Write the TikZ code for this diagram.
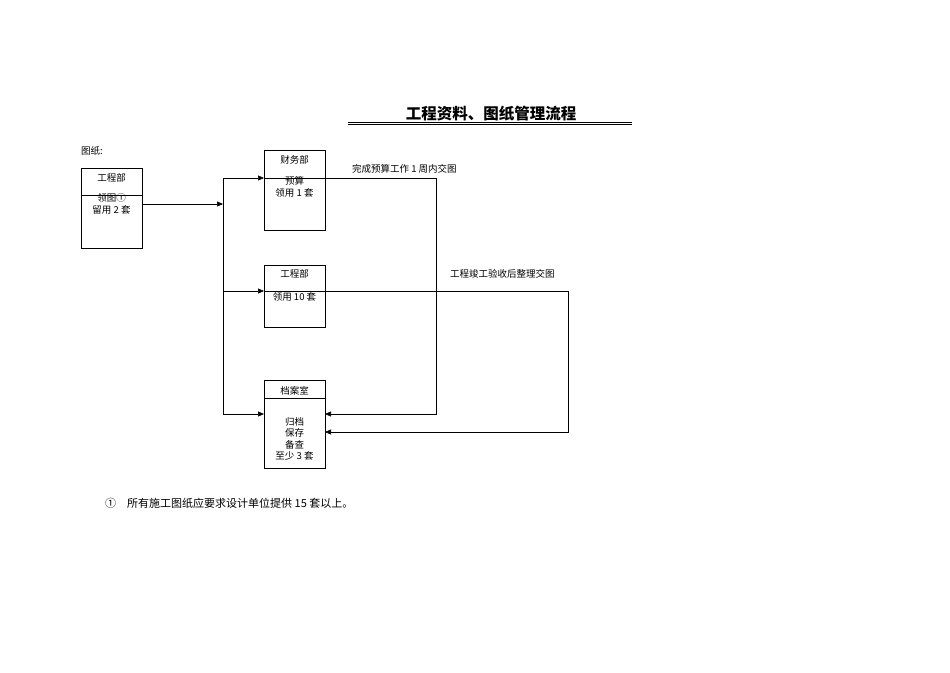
\documentclass[tikz,border=0pt]{standalone}
\usepackage{fontspec}
\setmainfont{Noto Sans CJK SC}
\usetikzlibrary{arrows.meta}
\begin{document}
\begin{tikzpicture}[x=1pt,y=-1pt,
  box/.style={draw,line width=0.6pt},
  ln/.style={line width=0.6pt},
  ar/.style={ln,-{Triangle[length=6pt,width=5pt]}},
  txt/.style={font=\fontsize{9.5}{11.5}\selectfont,inner sep=0pt,align=center}]
\useasboundingbox (0,0) rectangle (950,672);
\node[font=\bfseries\fontsize{15.5}{17}\selectfont] (title) at (491,114) {工程资料、图纸管理流程};
\draw[line width=0.5pt] (348,122) -- (632,122) (348,124.5) -- (632,124.5);
\node[txt,anchor=west] (lbl) at (81,151) {图纸:};
% left box
\draw[box] (81,168) rectangle (142,248);
\draw[ln] (81,195) -- (142,195);
\node[txt] (gc) at (111.5,178) {工程部};
\node[txt] (lt) at (111.5,204) {领图①\\留用 2 套};
% boxes
\draw[box] (264,150) rectangle (325,230);
\node[txt] (cw) at (294.5,160) {财务部};
\node[txt] (ys) at (294.5,187) {预算\\领用 1 套};
\draw[box] (264,265) rectangle (325,327);
\node[txt] (gc2) at (294.5,274) {工程部};
\node[txt] (ly) at (294.5,297) {领用 10 套};
\draw[box] (264,380) rectangle (325,468);
\draw[ln] (264,398) -- (325,398);
\node[txt] (da) at (294.5,391) {档案室};
\node[txt] (gd) at (294.5,439) {归档\\保存\\备查\\至少 3 套};
% connectors
\coordinate (j) at (223,204);
\draw[ar] (142,204) -- (j);
\draw[ln] (223,178) -- (223,414);
\draw[ar] (223,178) -- (264,178);
\draw[ar] (223,291) -- (264,291);
\draw[ar] (223,414) -- (264,414);
\draw[ar] (264,178) -- (436,178) -- (436,414) -- (325,414);
\draw[ar] (264,291) -- (568,291) -- (568,432) -- (325,432);
\node[txt,anchor=west] (t1) at (352,169) {完成预算工作 1 周内交图};
\node[txt,anchor=west] (t2) at (450,274) {工程竣工验收后整理交图};
\node[anchor=west,font=\fontsize{11}{13}\selectfont,inner sep=0pt] (fn) at (105,503) {①\quad 所有施工图纸应要求设计单位提供 15 套以上。};
\end{tikzpicture}
\end{document}
